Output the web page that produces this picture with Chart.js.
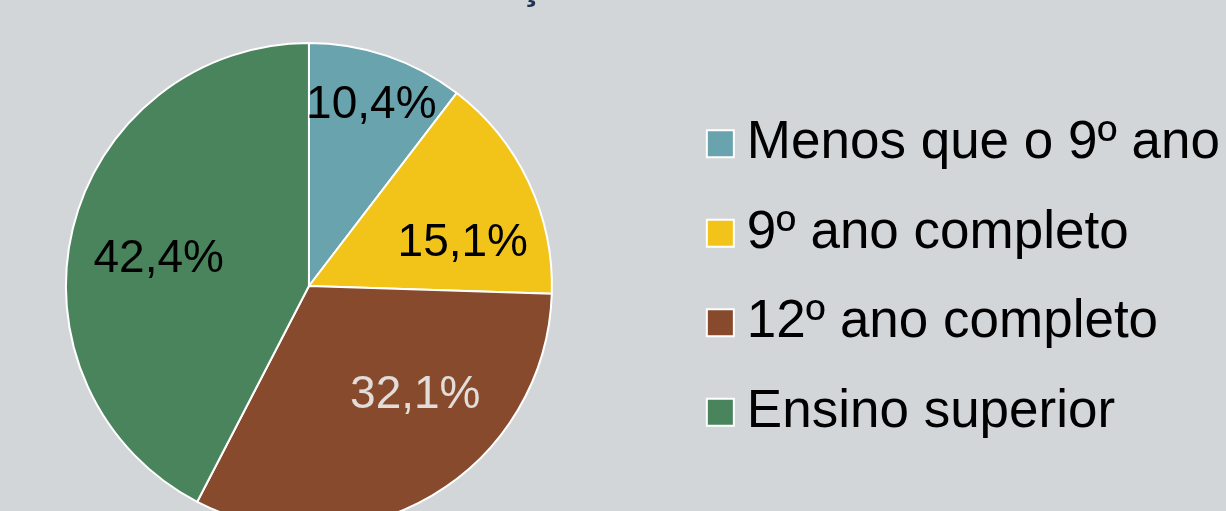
<!DOCTYPE html>
<html lang="pt">
<head>
<meta charset="utf-8">
<title>Habilitações literárias</title>
<script src="https://cdn.jsdelivr.net/npm/chart.js@4/dist/chart.umd.min.js"></script>
<style>
    html, body {
        margin: 0;
        width: 1226px;
        height: 511px;
        overflow: hidden;
        background: #d3d6d9;
    }
    #wrap {
        position: relative;
        width: 1226px;
        height: 511px;
        overflow: hidden;
    }
    /* canvas is a bit bigger than the window: title sits above the top edge */
    #myChart {
        position: absolute;
        left: -66px;
        top: -60px;
    }
</style>
</head>
<body>
<div id="wrap">
    <canvas id="myChart" width="1296" height="590"></canvas>
</div>
<script>
    /* data */
    var categories = ['Menos que o 9º ano', '9º ano completo', '12º ano completo', 'Ensino superior'];
    var shares = [10.4, 15.1, 32.1, 42.4];

    /* styles */
    var sliceColors = ['#69a3ad', '#f2c41a', '#874a2c', '#4a845d'];
    var labelColors = ['#000000', '#000000', '#e2ddd9', '#000000'];
    // where each % label sits inside its slice (angle shift in deg, fraction of radius)
    var labelAngleShift = [0, 9, -14.5, -2.5];
    var labelRadius = [0.80, 0.66, 0.62, 0.63];

    var FONT = "'Liberation Sans', Arial, sans-serif";

    function pct(v){
        return v.toFixed(1).replace('.', ',') + '%';
    }

    /* % labels inside the slices */
    var sliceLabels = {
        id: 'sliceLabels',
        afterDatasetsDraw: function(chart){
            var ctx = chart.ctx;
            var arcs = chart.getDatasetMeta(0).data;
            ctx.save();
            ctx.font = '46px ' + FONT;
            ctx.textAlign = 'center';
            ctx.textBaseline = 'middle';
            arcs.forEach(function(arc, i){
                var p = arc.getProps(['x', 'y', 'startAngle', 'endAngle', 'outerRadius'], true);
                var a = (p.startAngle + p.endAngle) / 2 + labelAngleShift[i] * Math.PI / 180;
                var r = p.outerRadius * labelRadius[i];
                ctx.fillStyle = labelColors[i];
                // +3: digits sit a little under the 'middle' line
                ctx.fillText(pct(shares[i]), p.x + Math.cos(a) * r, p.y + Math.sin(a) * r + 3);
            });
            ctx.restore();
        }
    };

    /* legend block sits slightly above the pie centre */
    var legendShift = {
        id: 'legendShift',
        afterLayout: function(chart){
            chart.legend.top -= 8;
            chart.legend.bottom -= 8;
        }
    };

    var ctx = document.getElementById('myChart');
    var myPieChart = new Chart(ctx, {
        type: 'pie',
        data: {
            labels: categories,
            datasets: [{
                data: shares,
                backgroundColor: sliceColors,
                borderColor: '#ffffff',
                borderWidth: 2,
                hoverOffset: 0
            }]
        },
        options: {
            responsive: false,
            animation: false,
            devicePixelRatio: 1,
            layout: { padding: 0 },
            plugins: {
                title: {
                    display: true,
                    text: 'Habilitações literárias',
                    color: '#1d3552',
                    font: { family: FONT, size: 40, weight: 'bold' },
                    padding: { top: 24, bottom: 30 }
                },
                legend: {
                    position: 'right',
                    fullSize: false,
                    labels: {
                        color: '#000000',
                        font: { family: FONT, size: 53 },
                        usePointStyle: true,
                        pointStyle: 'rect',
                        boxWidth: 0.01,
                        boxHeight: 27,
                        padding: 36.5
                    }
                },
                tooltip: { enabled: false }
            }
        },
        plugins: [sliceLabels, legendShift]
    });
</script>
</body>
</html>
